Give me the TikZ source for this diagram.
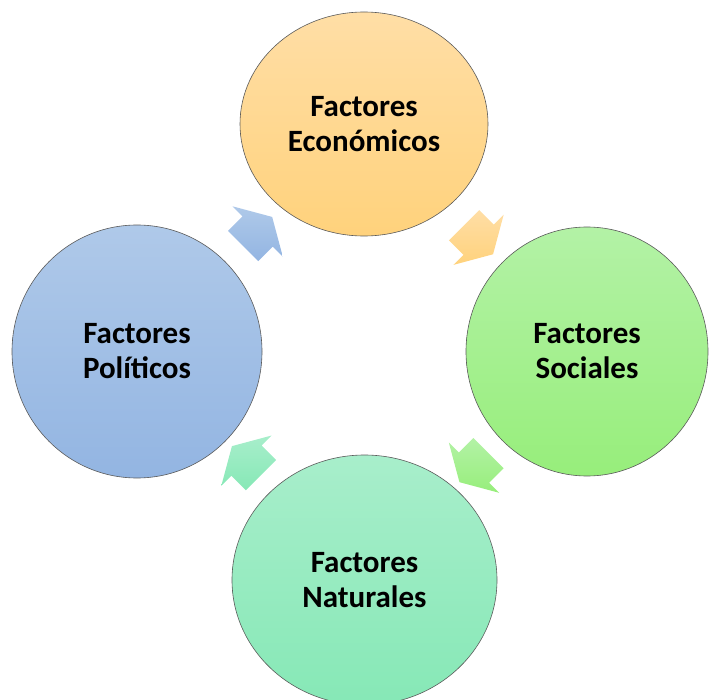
\documentclass[tikz,border=0pt]{standalone}
\usepackage{fontspec}
\setmainfont{Carlito}
\usetikzlibrary{
  shapes.geometric,
  shapes.arrows,
}

\definecolor{ecotop}{HTML}{FFDEA6}
\definecolor{ecobot}{HTML}{FFD27C}
\definecolor{soctop}{HTML}{B3F2A6}
\definecolor{socbot}{HTML}{97EE7B}
\definecolor{poltop}{HTML}{AFC9E9}
\definecolor{polbot}{HTML}{93B5E2}
\definecolor{nattop}{HTML}{A8EECB}
\definecolor{natbot}{HTML}{86E8B6}
\definecolor{rim}{HTML}{5A5A5A}

\begin{document}
\begin{tikzpicture}[x=1pt, y=-1pt,
  factor/.style={ellipse, draw=rim, line width=0.6pt, inner sep=0pt, align=center,
    font=\fontsize{31}{35}\selectfont\bfseries},
  turn/.style={single arrow, draw=none, inner sep=0pt, inner ysep=21.2pt,
    minimum height=41pt, minimum width=70.7pt,
    single arrow head extend=14.1pt, single arrow tip angle=120}]
\useasboundingbox (0,0) rectangle (709,700);

\node[factor, minimum width=248pt, minimum height=224pt, top color=ecotop, bottom color=ecobot]
  (eco) at (364,124) {Factores\\Económicos};
\node[factor, minimum width=242pt, minimum height=249pt, top color=soctop, bottom color=socbot]
  (soc) at (587,351.5) {Factores\\Sociales};
\node[factor, minimum width=265pt, minimum height=250pt, top color=nattop, bottom color=natbot]
  (nat) at (364.5,580) {Factores\\Naturales};
\node[factor, minimum width=250pt, minimum height=253pt, top color=poltop, bottom color=polbot]
  (pol) at (137,351.5) {Factores\\Políticos};

\node[turn, rotate=45, top color=poltop, bottom color=polbot] (a1) at (253.3,235.8) {};
\node[turn, rotate=-45, top color=ecotop, bottom color=ecobot] (a2) at (474.2,235.4) {};
\node[turn, rotate=-135, top color=soctop, bottom color=socbot] (a3) at (478.3,463.3) {};
\node[turn, rotate=135, top color=nattop, bottom color=natbot] (a4) at (250.8,465) {};
\end{tikzpicture}
\end{document}
